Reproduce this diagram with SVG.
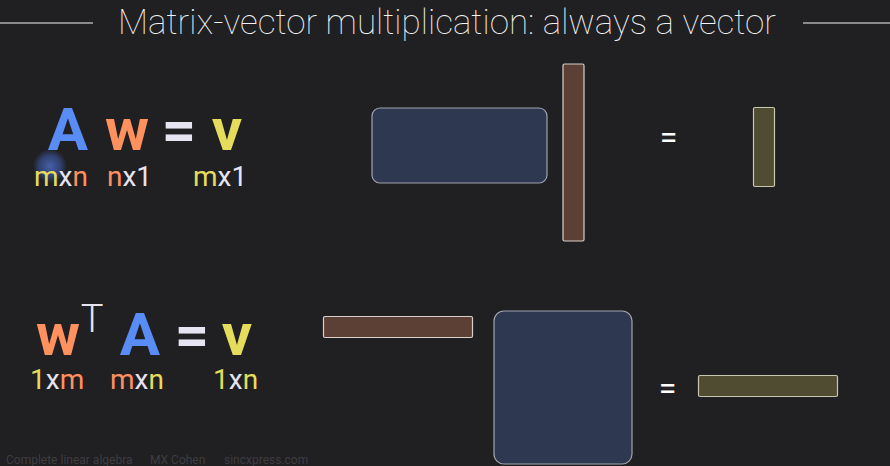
<svg xmlns="http://www.w3.org/2000/svg" width="890" height="466" viewBox="0 0 890 466">
<defs>
<style>
.title{font-family:Roboto,"Liberation Sans",sans-serif;font-weight:100;font-size:35px;fill:#f4f4f4}
.big{font-family:Roboto,"Liberation Sans",sans-serif;font-weight:700;font-size:60px}
.sub{font-family:Roboto,"Liberation Sans",sans-serif;font-weight:400;font-size:28px}
.B{fill:#5a8cf6}.O{fill:#ff915f}.Y{fill:#e6dc5c}.W{fill:#e6e4f0}
.mat{fill:#2e3850;stroke:#a0a4b0;stroke-width:1.2}
.wv{fill:#5c3f35;stroke:#d8d0cc;stroke-width:1.2}
.vv{fill:#4f4c31;stroke:#c8c6b0;stroke-width:1.2}
.eq{font-family:Roboto,"Liberation Sans",sans-serif;font-size:32px;fill:#ffffff}
.foot{font-family:Roboto,"Liberation Sans",sans-serif;font-size:12px;fill:#3e3d41}
</style>
<radialGradient id="hl">
<stop offset="0" stop-color="#4a68b8" stop-opacity="0.9"/>
<stop offset="0.6" stop-color="#3e5ba8" stop-opacity="0.6"/>
<stop offset="1" stop-color="#3e5ba8" stop-opacity="0"/>
</radialGradient>
</defs>
<rect width="890" height="466" fill="#201f22"/>
<g id="title">
<line x1="0" y1="23" x2="93" y2="23" stroke="#8a898c" stroke-width="2"/>
<line x1="803" y1="23" x2="890" y2="23" stroke="#8a898c" stroke-width="2"/>
<text class="title" x="447" y="34" text-anchor="middle">Matrix-vector multiplication: always a vector</text>
</g>
<g id="eq1">
<circle cx="50" cy="166" r="17" fill="url(#hl)"/>
<text class="big B" x="68" y="150" text-anchor="middle">A</text>
<text class="big O" x="127" y="150" text-anchor="middle">w</text>
<text class="big W" x="179" y="150" text-anchor="middle">=</text>
<text class="big Y" x="227" y="150" text-anchor="middle">v</text>
<text class="sub" x="34" y="186"><tspan class="Y">m</tspan><tspan class="W">x</tspan><tspan class="O">n</tspan></text>
<text class="sub" x="107" y="186"><tspan class="O">n</tspan><tspan class="W">x1</tspan></text>
<text class="sub" x="193" y="186"><tspan class="Y">m</tspan><tspan class="W">x1</tspan></text>
</g>
<g id="eq2">
<text class="big O" x="58" y="355" text-anchor="middle">w</text>
<text x="92" y="332" text-anchor="middle" style="font-family:Roboto,'Liberation Sans',sans-serif;font-size:38px;font-weight:300;fill:#e6e4f0">T</text>
<text class="big B" x="140" y="355" text-anchor="middle">A</text>
<text class="big W" x="192" y="355" text-anchor="middle">=</text>
<text class="big Y" x="237" y="355" text-anchor="middle">v</text>
<text class="sub" x="30" y="389"><tspan class="Y">1</tspan><tspan class="W">x</tspan><tspan class="O">m</tspan></text>
<text class="sub" x="110" y="389"><tspan class="O">m</tspan><tspan class="W">x</tspan><tspan class="Y">n</tspan></text>
<text class="sub" x="213" y="389"><tspan class="Y">1</tspan><tspan class="W">x</tspan><tspan class="Y">n</tspan></text>
</g>
<g id="top-row">
<rect id="A1" class="mat" x="372" y="108" width="175" height="75" rx="8"/>
<rect id="w1" class="wv" x="563" y="64" width="21" height="177" rx="1.5"/>
<text class="eq" x="668.5" y="148" text-anchor="middle">=</text>
<rect id="v1" class="vv" x="753.5" y="107.5" width="21" height="79" rx="1.5"/>
</g>
<g id="bottom-row">
<rect id="w2" class="wv" x="323.5" y="316.5" width="149" height="21" rx="1.5"/>
<rect id="A2" class="mat" x="494" y="311" width="138" height="153" rx="10"/>
<text class="eq" x="667.5" y="399" text-anchor="middle">=</text>
<rect id="v2" class="vv" x="698.5" y="375.5" width="139" height="21" rx="1.5"/>
</g>
<g id="footer">
<text class="foot" x="6" y="464">Complete linear algebra</text>
<text class="foot" x="150" y="464">MX Cohen</text>
<text class="foot" x="224" y="464">sincxpress.com</text>
</g>
</svg>
